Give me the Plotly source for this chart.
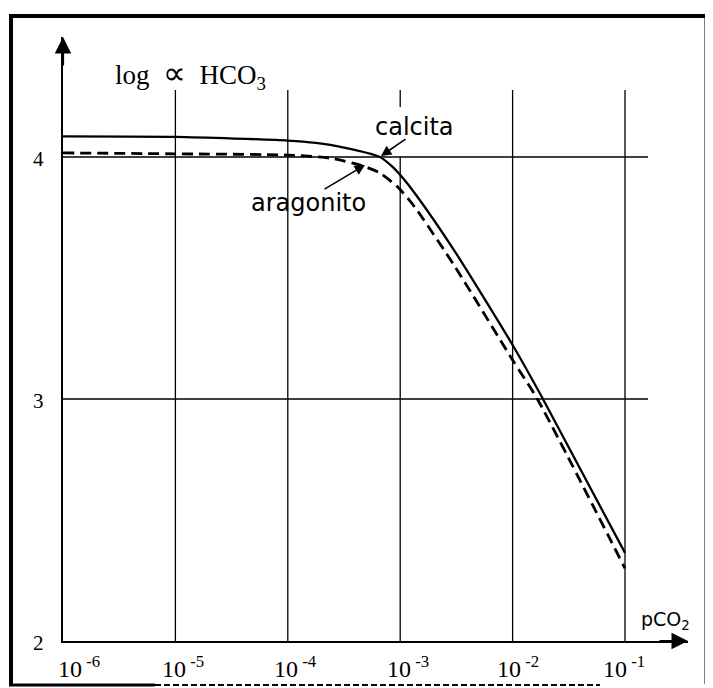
import plotly.graph_objects as go

# ---- data ----
# x as log10(pCO2), y as log a HCO3
calcita_logp = [-6.0, -5.0, -4.0, -3.75, -3.51, -3.18, -3.07, -2.98, -2.87, -2.51, -2.0, -1.73, -1.0]
calcita_val = [4.085, 4.083, 4.068, 4.058, 4.040, 4.000, 3.960, 3.915, 3.850, 3.607, 3.223, 3.000, 2.364]

aragonito_logp = [-6.0, -5.0, -4.0, -3.62, -3.33, -3.18, -3.02, -2.87, -2.51, -2.0, -1.78, -1.0]
aragonito_val = [4.017, 4.013, 4.008, 3.995, 3.963, 3.934, 3.875, 3.793, 3.545, 3.161, 3.000, 2.300]

x_tick_exps = [-6, -5, -4, -3, -2, -1]
x_tick_labels = ["10<sup>\u00a0-6</sup>", "10<sup>\u00a0-5</sup>", "10<sup>\u00a0-4</sup>",
                 "10<sup>\u00a0-3</sup>", "10<sup>\u00a0-2</sup>", "10<sup>\u00a0-1</sup>"]
y_tick_vals = [4, 3, 2]
y_tick_labels = ["4", "3", "2"]

# ---- geometry / style ----
PAGE_OFF = 8          # default body margin of the html page
W, H = 713 - PAGE_OFF, 688 - PAGE_OFF
PLOT_L, PLOT_R, PLOT_T, PLOT_B = 63, 688, 37, 641   # plot area in page pixels
ML = PLOT_L - PAGE_OFF
MT = PLOT_T - PAGE_OFF
MR = 713 - PLOT_R
MB = 688 - PLOT_B
PW, PH = PLOT_R - PLOT_L, PLOT_B - PLOT_T
PX_PER_DEC = 112.4
PX_PER_UNIT = 242.0
x_range = [-6, -6 + PW / PX_PER_DEC]
y_range = [2, 2 + PH / PX_PER_UNIT]


def px2paper_x(px):
    return (px - PLOT_L) / PW


def py2paper_y(py):
    return (PLOT_B - py) / PH


fig = go.Figure()

# grid lines drawn as traces so they can stop short like in the original
grid_top = 4.277
grid_style = dict(color="black", width=1.3)
for e in x_tick_exps[1:]:
    if e == -3:
        for seg in [(2, 4.0), (4.207, grid_top)]:
            fig.add_trace(go.Scatter(x=[10 ** e, 10 ** e], y=list(seg), mode="lines",
                                     line=grid_style, hoverinfo="skip", showlegend=False))
    else:
        fig.add_trace(go.Scatter(x=[10 ** e, 10 ** e], y=[2, grid_top], mode="lines",
                                 line=grid_style, hoverinfo="skip", showlegend=False))
for v in [3, 4]:
    fig.add_trace(go.Scatter(x=[1e-6, 10 ** -0.795], y=[v, v], mode="lines",
                             line=grid_style, hoverinfo="skip", showlegend=False))

fig.add_trace(go.Scatter(
    x=[10 ** v for v in calcita_logp], y=calcita_val, mode="lines", name="calcita",
    line=dict(color="black", width=2.3, shape="spline", smoothing=0.6), showlegend=False))
fig.add_trace(go.Scatter(
    x=[10 ** v for v in aragonito_logp], y=aragonito_val, mode="lines", name="aragonito",
    line=dict(color="black", width=2.8, dash="11px,6px", shape="spline", smoothing=0.6),
    showlegend=False))

serif = "Liberation Serif"
sans = "DejaVu Sans"
annotations = []

# x tick labels
x_label_shift = [16, 8, 8, 8, 5, -1]
for e, t, s in zip(x_tick_exps, x_tick_labels, x_label_shift):
    annotations.append(dict(x=e, xref="x", y=0, yref="paper", text=t, showarrow=False,
                            xanchor="center", yanchor="middle", xshift=s, yshift=-26,
                            font=dict(family=serif, size=24, color="black")))
# y tick labels
for v, t in zip(y_tick_vals, y_tick_labels):
    annotations.append(dict(x=0, xref="paper", y=v, yref="y", text=t, showarrow=False,
                            xanchor="center", yanchor="middle", xshift=-25, yshift=-2,
                            font=dict(family=serif, size=21, color="black")))

# axis titles
annotations.append(dict(x=px2paper_x(113), xref="paper", y=py2paper_y(74), yref="paper",
                        text="log\u00a0\u00a0<span style='font-size:32px'>\u221d</span>\u00a0\u00a0HCO<sub>3</sub>",
                        showarrow=False, xanchor="left", yanchor="middle",
                        font=dict(family=serif, size=27, color="black")))
annotations.append(dict(x=-0.644, xref="x", y=2.083, yref="y", text="pCO<sub>2</sub>",
                        showarrow=False, xanchor="center", yanchor="middle",
                        font=dict(family=sans, size=19, color="black")))

# curve labels
annotations.append(dict(x=-2.877, xref="x", y=4.124, yref="y", text="calcita", showarrow=False,
                        xanchor="center", yanchor="middle",
                        font=dict(family=sans, size=24, color="black")))
annotations.append(dict(x=-3.82, xref="x", y=3.81, yref="y", text="aragonito", showarrow=False,
                        xanchor="center", yanchor="middle",
                        font=dict(family=sans, size=24, color="black")))
# label arrows
annotations.append(dict(x=-3.171, xref="x", y=4.004, yref="y", text="", showarrow=True,
                        ax=26, ay=-18, arrowhead=2, arrowsize=1.3, arrowwidth=1.6,
                        arrowcolor="black"))
annotations.append(dict(x=-3.313, xref="x", y=3.967, yref="y", text="", showarrow=True,
                        ax=-42, ay=25, arrowhead=2, arrowsize=1.3, arrowwidth=1.6,
                        arrowcolor="black"))

# axis arrowheads
annotations.append(dict(x=1, xref="paper", y=2, yref="y", text="", showarrow=True,
                        ax=-30, ay=0, arrowhead=2, arrowsize=1.5, arrowwidth=2.2,
                        arrowcolor="black"))
annotations.append(dict(x=-6, xref="x", y=1, yref="paper", text="", showarrow=True,
                        ax=0, ay=30, arrowhead=2, arrowsize=1.5, arrowwidth=2.2,
                        arrowcolor="black"))

# outer frame (page pixel positions)
frame = dict(color="black", width=4)
shapes = [
    dict(type="line", xref="paper", yref="paper", x0=px2paper_x(11), x1=px2paper_x(11),
         y0=py2paper_y(14), y1=py2paper_y(686), line=frame),
    dict(type="line", xref="paper", yref="paper", x0=px2paper_x(9), x1=px2paper_x(708),
         y0=py2paper_y(16), y1=py2paper_y(16), line=frame),
    dict(type="line", xref="paper", yref="paper", x0=px2paper_x(706), x1=px2paper_x(706),
         y0=py2paper_y(14), y1=py2paper_y(684), line=dict(color="black", width=3)),
    dict(type="line", xref="paper", yref="paper", x0=px2paper_x(9), x1=px2paper_x(155),
         y0=py2paper_y(685), y1=py2paper_y(685), line=dict(color="black", width=3)),
    dict(type="line", xref="paper", yref="paper", x0=px2paper_x(155), x1=px2paper_x(600),
         y0=py2paper_y(685), y1=py2paper_y(685), line=dict(color="black", width=2, dash="6px,3px")),
]

fig.update_layout(
    width=W, height=H,
    margin=dict(l=ML, r=MR, t=MT, b=MB, pad=0),
    paper_bgcolor="white", plot_bgcolor="white",
    xaxis=dict(type="log", range=x_range, showgrid=False, zeroline=False,
               showticklabels=False, ticks="", showline=True, linecolor="black",
               linewidth=2),
    yaxis=dict(range=y_range, showgrid=False, zeroline=False, showticklabels=False,
               ticks="", showline=True, linecolor="black", linewidth=2),
    annotations=annotations,
    shapes=shapes,
    showlegend=False,
)

fig.write_html("out.html")
